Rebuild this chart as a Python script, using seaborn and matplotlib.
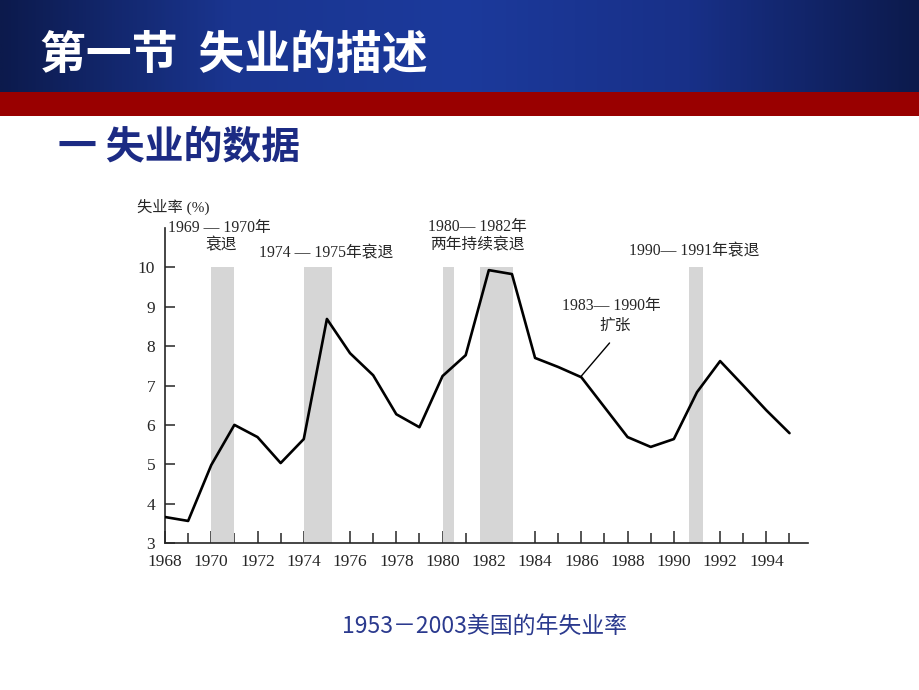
import numpy as np
import pandas as pd
import matplotlib
matplotlib.use("Agg")
import matplotlib.pyplot as plt
import seaborn as sns
from matplotlib.colors import LinearSegmentedColormap

# ---------------- data ----------------
years = list(range(1968, 1996))
unemployment = [3.66, 3.56, 4.98, 6.00, 5.69, 5.03, 5.64, 8.69, 7.82, 7.26,
                6.27, 5.94, 7.24, 7.77, 9.93, 9.83, 7.70, 7.47, 7.21, 6.45,
                5.69, 5.44, 5.64, 6.83, 7.62, 7.00, 6.37, 5.79]
recessions = [(1970.0, 1971.0), (1974.0, 1975.2), (1980.0, 1980.5),
              (1981.6, 1983.05), (1990.65, 1991.25)]
recession_top = 10
xtick_labels = list(range(1968, 1996, 2))
ytick_labels = list(range(3, 11))

title = "第一节  失业的描述"
subtitle = "一 失业的数据"
caption = "1953－2003美国的年失业率"
ylabel = "失业率 (%)"
annotations = [
    ("1969 — 1970年", 1970.35, 11.0),
    ("衰退", 1970.43, 10.56),
    ("1974 — 1975年衰退", 1974.98, 10.36),
    ("1980— 1982年", 1981.5, 11.02),
    ("两年持续衰退", 1981.5, 10.56),
    ("1990— 1991年衰退", 1990.9, 10.41),
    ("1983— 1990年", 1987.3, 9.02),
    ("扩张", 1987.46, 8.51),
]
leader_x = [1987.22, 1986.0]
leader_y = [8.08, 7.24]

df = pd.DataFrame({"year": years, "rate": unemployment})

# ---------------- style ----------------
sns.set_theme(style="ticks")
plt.rcParams['font.family'] = ['Noto Sans CJK SC', 'DejaVu Sans']
serif = ['Liberation Serif', 'Noto Sans CJK SC']

fig = plt.figure(figsize=(9.2, 6.9), dpi=100)
W, H = 920, 690

# header gradient bar
hax = fig.add_axes([0, 1 - 92 / H, 1, 92 / H])
cmap = LinearSegmentedColormap.from_list(
    "hdr", ["#0c1a4c", "#1a3590", "#1c3a9c", "#183088", "#0c1a4c"])
grad = np.linspace(0, 1, 512).reshape(1, -1)
hax.imshow(grad, aspect="auto", cmap=cmap, extent=[0, 1, 0, 1])
hax.set_axis_off()
fig.text(40 / W, 1 - 56 / H, title, color="white", fontsize=33,
         fontweight="bold", va="center", ha="left")

# red bar
rax = fig.add_axes([0, 1 - 116 / H, 1, 24 / H])
rax.set_facecolor("#990000")
rax.set_xticks([]); rax.set_yticks([])
for s in rax.spines.values():
    s.set_visible(False)

fig.text(58 / W, 1 - 148 / H, subtitle, color="#1c2b84", fontsize=28,
         fontweight="bold", va="center", ha="left")
fig.text(485 / W, 1 - 626 / H, caption, color="#2b3a8e", fontsize=16.5,
         va="center", ha="center")

# ---------------- chart ----------------
ax = fig.add_axes([165 / W, 1 - 543 / H, (808 - 165) / W, (543 - 228) / H])
for x0, x1 in recessions:
    ax.fill_between([x0, x1], ytick_labels[0], recession_top,
                    color="#d6d6d6", linewidth=0, zorder=1)
sns.lineplot(data=df, x="year", y="rate", ax=ax, color="black",
             linewidth=1.9, zorder=3)
ax.plot(leader_x, leader_y, color="black", linewidth=1.0, zorder=3)

ax.set_xlim(1968, 1995.8)
ax.set_ylim(3, 11)
ax.set_xticks(xtick_labels)
ax.set_xticks(years, minor=True)
ax.set_yticks(ytick_labels)
ax.set_xlabel("")
ax.set_ylabel("")
sns.despine(ax=ax)
ax.spines["left"].set_linewidth(1.2)
ax.spines["bottom"].set_linewidth(1.2)
ax.tick_params(axis="x", which="major", direction="in", length=9, width=1.1,
               labelsize=12.5, pad=8)
ax.tick_params(axis="x", which="minor", direction="in", length=7, width=1.1)
ax.tick_params(axis="y", which="major", direction="in", length=7, width=1.1,
               labelsize=12.5, pad=7)
for lab in ax.get_xticklabels() + ax.get_yticklabels():
    lab.set_family(serif)
ax.patch.set_alpha(0)

ax.text(1966.8, 11.53, ylabel, family=serif, fontsize=11, ha="left",
        va="center", clip_on=False)
for txt, x, y in annotations:
    ax.text(x, y, txt, family=serif, fontsize=11.3, ha="center", va="center",
            clip_on=False)

fig.savefig("out.png", dpi=100)
